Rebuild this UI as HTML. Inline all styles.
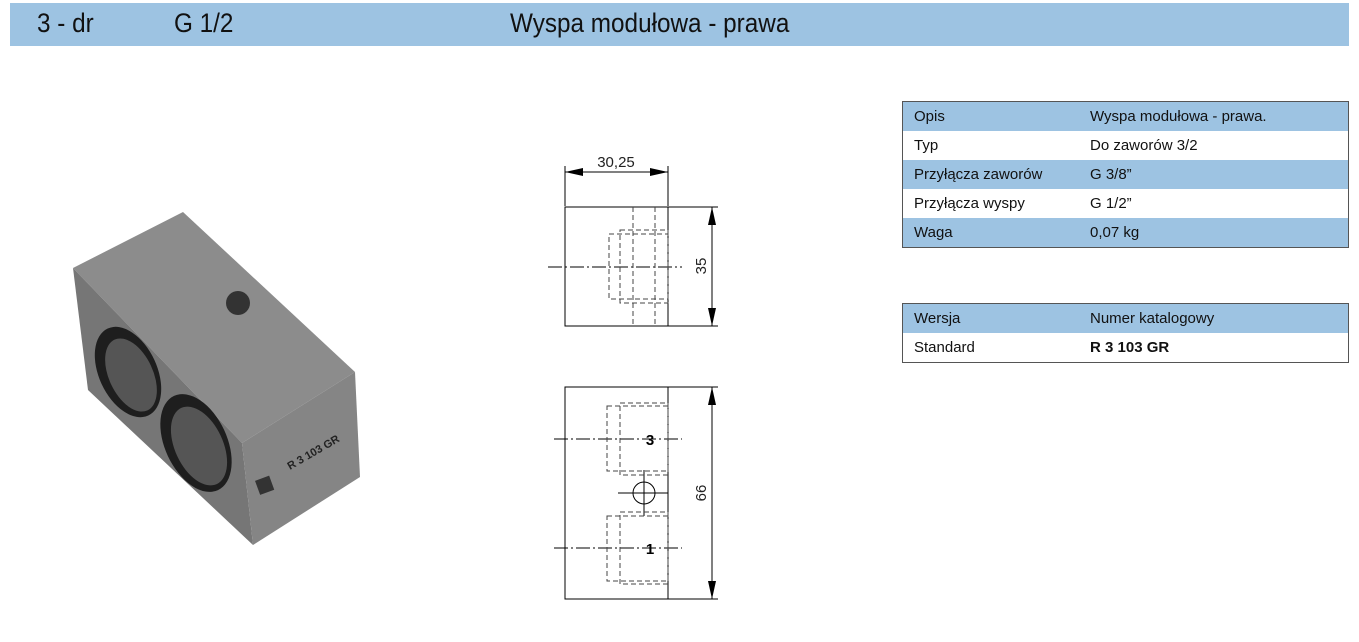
<!DOCTYPE html>
<html><head><meta charset="utf-8">
<style>
body{margin:0;width:1359px;height:642px;background:#fff;position:relative;overflow:hidden;font-family:"Liberation Sans",sans-serif;}
.hdr{position:absolute;left:10px;top:3px;width:1339px;height:43px;background:#9dc3e2;}
.hdr span{position:absolute;top:5px;font-size:27px;color:#111;transform:scaleX(0.9);transform-origin:left;}
table{position:absolute;left:902px;border-collapse:collapse;width:447px;font-size:15px;color:#111;border:1px solid #555;}
td{height:29px;padding:0 0 0 11px;}
td:first-child{width:165px;}
tr.b td{background:#9dc3e2;}
</style></head><body>
<div class="hdr"><span style="left:27px">3 - dr</span><span style="left:164px">G 1/2</span><span style="left:500px">Wyspa modułowa - prawa</span></div>
<table style="top:101px">
<tr class="b"><td>Opis</td><td>Wyspa modułowa - prawa.</td></tr>
<tr><td>Typ</td><td>Do zaworów 3/2</td></tr>
<tr class="b"><td>Przyłącza zaworów</td><td>G 3/8”</td></tr>
<tr><td>Przyłącza wyspy</td><td>G 1/2”</td></tr>
<tr class="b"><td>Waga</td><td>0,07 kg</td></tr>
</table>
<table style="top:303px">
<tr class="b"><td>Wersja</td><td>Numer katalogowy</td></tr>
<tr><td>Standard</td><td><b>R 3 103 GR</b></td></tr>
</table>
<svg width="1359" height="642" style="position:absolute;left:0;top:0">
<!-- photo -->
<polygon points="73,268 183,212 355,372 242,443" fill="#8c8c8c"/>
<polygon points="73,268 242,443 253,545 88,390" fill="#767676"/>
<polygon points="242,443 355,372 360,477 253,545" fill="#858585"/>
<circle cx="238" cy="303" r="12" fill="#333"/>
<ellipse cx="128" cy="372" rx="29" ry="48" transform="rotate(-25 128 372)" fill="#1e1e1e"/>
<ellipse cx="131" cy="375" rx="22" ry="39" transform="rotate(-25 131 375)" fill="#555"/>
<ellipse cx="196" cy="443" rx="31" ry="52" transform="rotate(-25 196 443)" fill="#1e1e1e"/>
<ellipse cx="199" cy="446" rx="24" ry="42" transform="rotate(-25 199 446)" fill="#555"/>
<rect x="257" y="478" width="15" height="15" fill="#333" transform="rotate(-20 264 485)"/>
<text x="290" y="470" font-size="11" font-weight="bold" fill="#222" transform="rotate(-30 290 470)">R 3 103 GR</text>
<!-- top view -->
<g stroke="#000" fill="none" stroke-width="1">
<rect x="565" y="207" width="103" height="119"/>
<line x1="668" y1="166" x2="668" y2="206"/><line x1="565" y1="166" x2="565" y2="206"/>
<line x1="565" y1="172" x2="668" y2="172"/>
<line x1="668" y1="207" x2="718" y2="207"/><line x1="668" y1="326" x2="718" y2="326"/>
<line x1="712" y1="207" x2="712" y2="326"/>
<line x1="548" y1="267" x2="682" y2="267" stroke-dasharray="14,3,2,3"/>
<g stroke-dasharray="5,3" stroke="#444">
<line x1="633" y1="207" x2="633" y2="326"/><line x1="655" y1="207" x2="655" y2="326"/>
<rect x="609" y="234" width="59" height="65"/><rect x="620" y="230" width="48" height="73"/>
</g>
<!-- bottom view -->
<rect x="565" y="387" width="103" height="212"/>
<line x1="668" y1="387" x2="718" y2="387"/><line x1="668" y1="599" x2="718" y2="599"/>
<line x1="712" y1="387" x2="712" y2="599"/>
<line x1="554" y1="439" x2="682" y2="439" stroke-dasharray="14,3,2,3"/>
<line x1="554" y1="548" x2="682" y2="548" stroke-dasharray="14,3,2,3"/>
<circle cx="644" cy="493" r="11"/>
<line x1="618" y1="493" x2="668" y2="493"/><line x1="644" y1="470" x2="644" y2="516"/>
<g stroke-dasharray="5,3" stroke="#444">
<rect x="607" y="406" width="61" height="65"/><rect x="620" y="403" width="48" height="72"/>
<rect x="607" y="516" width="61" height="65"/><rect x="620" y="512" width="48" height="72"/>
</g>
</g>
<g fill="#000">
<polygon points="565,172 583,168 583,176"/><polygon points="668,172 650,168 650,176"/>
<polygon points="712,207 708,225 716,225"/><polygon points="712,326 708,308 716,308"/>
<polygon points="712,387 708,405 716,405"/><polygon points="712,599 708,581 716,581"/>
</g>
<text x="616" y="167" font-size="15" text-anchor="middle" fill="#222">30,25</text>
<text x="0" y="0" font-size="15" fill="#222" text-anchor="middle" transform="translate(706,266) rotate(-90)">35</text>
<text x="0" y="0" font-size="15" fill="#222" text-anchor="middle" transform="translate(706,493) rotate(-90)">66</text>
<text x="650" y="445" font-size="15" font-weight="bold" text-anchor="middle">3</text>
<text x="650" y="554" font-size="15" font-weight="bold" text-anchor="middle">1</text>
</svg>
</body></html>
